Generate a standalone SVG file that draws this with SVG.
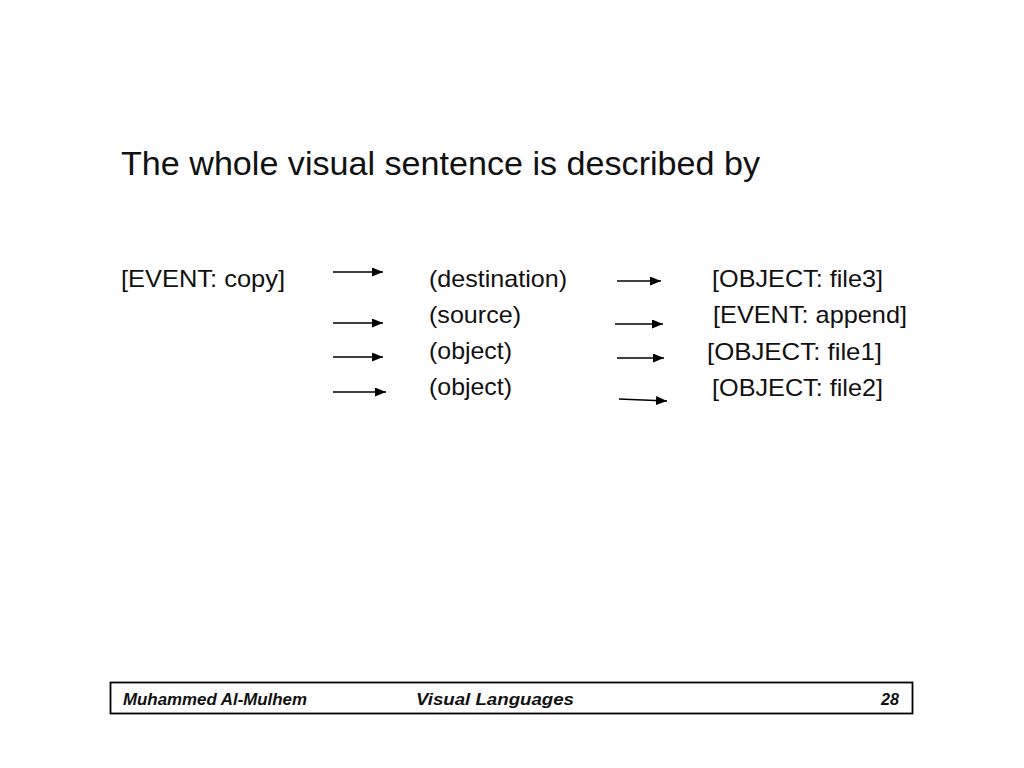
<svg xmlns="http://www.w3.org/2000/svg" width="1024" height="768" viewBox="0 0 1024 768">
  <defs>
    <marker id="arrow" markerUnits="userSpaceOnUse" markerWidth="11" markerHeight="9" refX="11" refY="4.5" orient="auto">
      <path d="M0,0 L11,4.5 L0,9 z" fill="#000"/>
    </marker>
    <style>
      .t { font-family: "Liberation Sans", Arial, Helvetica, sans-serif; fill: #111; }
      .body { font-size: 24px; }
      .foot { font-size: 16.5px; font-weight: bold; font-style: italic; }
      .conn line { stroke: #000; stroke-width: 1.7; marker-end: url(#arrow); }
    </style>
  </defs>
  <rect width="1024" height="768" fill="#fff"/>

  <g id="title">
    <text class="t" x="121" y="175" font-size="33" textLength="639" lengthAdjust="spacingAndGlyphs">The whole visual sentence is described by</text>
  </g>

  <g id="event-copy">
    <text class="t body" x="121" y="287" textLength="164" lengthAdjust="spacingAndGlyphs">[EVENT: copy]</text>
  </g>

  <g id="rel-destination"><text class="t body" x="429" y="287" textLength="138" lengthAdjust="spacingAndGlyphs">(destination)</text></g>
  <g id="rel-source"><text class="t body" x="429" y="323" textLength="92" lengthAdjust="spacingAndGlyphs">(source)</text></g>
  <g id="rel-object1"><text class="t body" x="429" y="359" textLength="83" lengthAdjust="spacingAndGlyphs">(object)</text></g>
  <g id="rel-object2"><text class="t body" x="429" y="395" textLength="83" lengthAdjust="spacingAndGlyphs">(object)</text></g>

  <g id="object-file3"><text class="t body" x="712" y="287" textLength="171" lengthAdjust="spacingAndGlyphs">[OBJECT: file3]</text></g>
  <g id="event-append"><text class="t body" x="713" y="323" textLength="194" lengthAdjust="spacingAndGlyphs">[EVENT: append]</text></g>
  <g id="object-file1"><text class="t body" x="707" y="360" textLength="175" lengthAdjust="spacingAndGlyphs">[OBJECT: file1]</text></g>
  <g id="object-file2"><text class="t body" x="712" y="396" textLength="171" lengthAdjust="spacingAndGlyphs">[OBJECT: file2]</text></g>

  <g id="connectors" class="conn">
    <line x1="333" y1="272" x2="383" y2="272"/>
    <line x1="333" y1="323" x2="383" y2="323"/>
    <line x1="333" y1="357" x2="383" y2="357"/>
    <line x1="333" y1="392" x2="386" y2="392"/>
    <line x1="617" y1="281" x2="661" y2="281"/>
    <line x1="615" y1="324" x2="663" y2="324"/>
    <line x1="617" y1="358" x2="664" y2="358"/>
    <line x1="619" y1="399" x2="667" y2="401"/>
  </g>

  <g id="footer">
    <rect x="110.5" y="682.5" width="802" height="31" fill="#fff" stroke="#000" stroke-width="1.8"/>
    <text class="t foot" x="123" y="704.5" textLength="184" lengthAdjust="spacingAndGlyphs">Muhammed Al-Mulhem</text>
    <text class="t foot" x="416" y="704.5" textLength="158" lengthAdjust="spacingAndGlyphs">Visual Languages</text>
    <text class="t foot" x="881" y="704.5" textLength="18" lengthAdjust="spacingAndGlyphs">28</text>
  </g>
</svg>
